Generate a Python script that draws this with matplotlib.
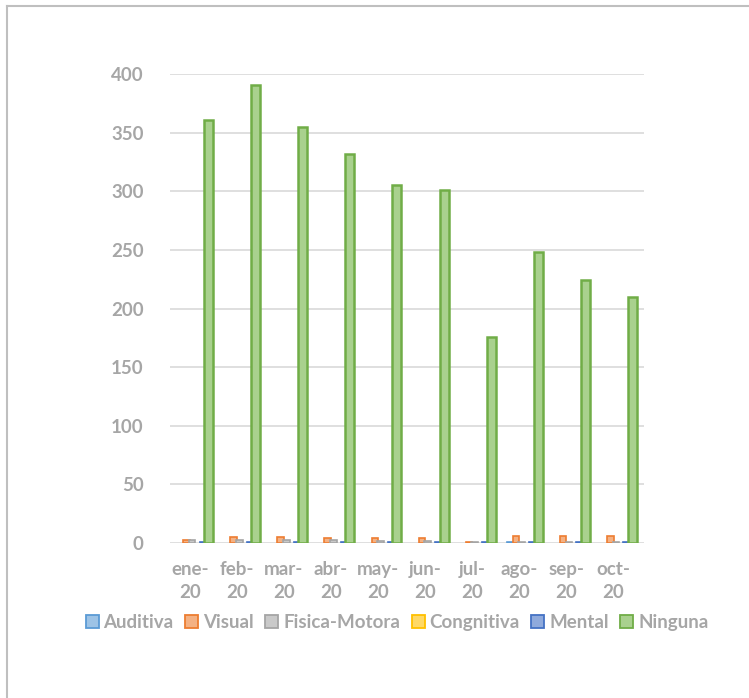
import matplotlib
matplotlib.use('Agg')
import matplotlib.pyplot as plt
from matplotlib.patches import Patch
import numpy as np

meses = ['ene-\n20', 'feb-\n20', 'mar-\n20', 'abr-\n20', 'may-\n20',
         'jun-\n20', 'jul-\n20', 'ago-\n20', 'sep-\n20', 'oct-\n20']
auditiva = [0, 0, 0, 0, 0, 0, 0, 1, 0, 0]
visual = [3, 5, 5, 4, 4, 4, 1, 6, 6, 6]
fisica = [3, 3, 3, 3, 2, 2, 1, 1, 1, 1]
cognitiva = [0, 0, 0, 0, 0, 0, 0, 0, 0, 0]
mental = [1, 1, 1, 1, 1, 1, 1, 1, 1, 1]
ninguna = [361, 391, 355, 332, 305, 301, 176, 248, 224, 210]

series = [
    ('Auditiva', auditiva, '#9dc3e6', '#5b9bd5'),
    ('Visual', visual, '#f4b183', '#ed7d31'),
    ('Fisica-Motora', fisica, '#c9c9c9', '#a5a5a5'),
    ('Congnitiva', cognitiva, '#ffd966', '#ffc000'),
    ('Mental', mental, '#8faadc', '#4472c4'),
    ('Ninguna', ninguna, '#a9d18e', '#70ad47'),
]

txt_col = '#a6a6a6'
plt.rcParams['font.family'] = ['Lato', 'DejaVu Sans']
plt.rcParams['font.weight'] = 'bold'

fig = plt.figure(figsize=(7.49, 6.98), dpi=100)
ax = fig.add_axes([0.227, 0.222, 0.633, 0.672])

x = np.arange(len(meses))
offs = [-0.33, -0.2, -0.08, 0.03, 0.15, 0.27]
for (nombre, vals, fc, ec), o in zip(series, offs):
    w = 0.19 if nombre == 'Ninguna' else 0.14
    lws = [0 if v == 0 else (1.8 if nombre == 'Ninguna' else 1.2) for v in vals]
    ax.bar(x + o, vals, width=w, color=fc, edgecolor=ec, lw=lws, zorder=3)

ax.set_ylim(0, 400)
ax.set_xlim(-0.55, 9.52)
ax.set_yticks(np.arange(0, 401, 50))
ax.set_xticks(x - 0.13)
ax.set_xticklabels(meses, linespacing=1.4)
ax.grid(axis='y', color='#d9d9d9', lw=1.2, zorder=0)
for s in ax.spines.values():
    s.set_visible(False)
ax.tick_params(length=0, labelsize=13.5, labelcolor=txt_col)
ax.tick_params(axis='y', pad=19)
ax.tick_params(axis='x', pad=13)

handles = [Patch(facecolor=fc, edgecolor=ec, lw=1.3, label=n) for n, _, fc, ec in series]
fig.legend(handles=handles, loc='center', bbox_to_anchor=(0.53, 0.108), ncol=6, frameon=False,
           fontsize=13.5, labelcolor=txt_col, handlelength=0.7, handleheight=0.7,
           handletextpad=0.25, columnspacing=0.62)

# borde del grafico
fig.add_artist(plt.Line2D([0.0093, 0.0093], [0, 0.9914], color='#bfbfbf', lw=1.5))
fig.add_artist(plt.Line2D([0.0093, 1], [0.9914, 0.9914], color='#bfbfbf', lw=1.5))

fig.savefig('out.png', dpi=100)
